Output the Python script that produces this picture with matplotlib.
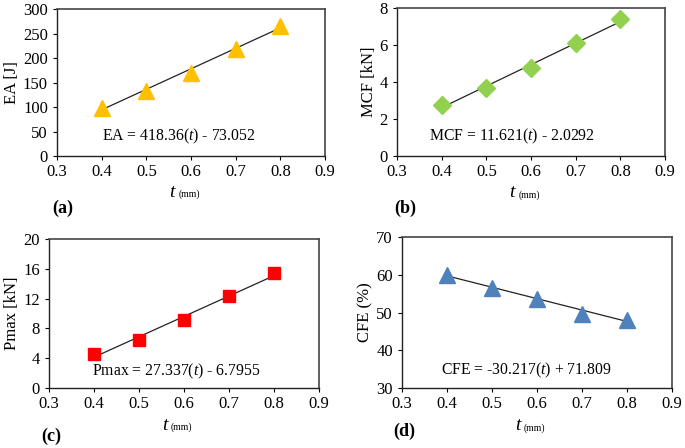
import numpy as np
import matplotlib
matplotlib.use("Agg")
import matplotlib.pyplot as plt

plt.rcParams['font.family'] = ['Liberation Serif', 'DejaVu Serif']
plt.rcParams['mathtext.fontset'] = 'custom'
plt.rcParams['mathtext.it'] = 'Liberation Serif:italic'
plt.rcParams['mathtext.rm'] = 'Liberation Serif'

# thickness values (mm)
thickness = [0.4, 0.5, 0.6, 0.7, 0.8]

ea = [98, 132, 170, 218, 265]
mcf = [2.75, 3.7, 4.75, 6.1, 7.4]
pmax = [4.6, 6.5, 9.1, 12.3, 15.4]
cfe = [60, 56.5, 53.5, 49.5, 48]

# linear fits (slope, intercept) as printed on the chart
ea_fit = (418.36, -73.052)
mcf_fit = (11.621, -2.0292)
pmax_fit = (27.337, -6.7955)
cfe_fit = (-30.217, 71.809)

fig = plt.figure(figsize=(6.85, 4.48), dpi=100)

panels = [
    # rect, y, fit, ylabel, ylim, yticks, marker, color, equation, eq pos, tag, tag pos
    ([0.0832, 0.6518, 0.3913, 0.328], ea, ea_fit, 'EA [J]', (0, 300), np.arange(0, 301, 50),
     '^', '#FFC000', r'EA = 418.36($\mathit{t}$) - 73.052', (0.40, 40), '(a)', (52, 213)),
    ([0.5796, 0.6518, 0.3912, 0.330], mcf, mcf_fit, 'MCF [kN]', (0, 8), np.arange(0, 9, 2),
     'D', '#92D050', r'MCF = 11.621($\mathit{t}$) - 2.0292', (0.372, 1.05), '(b)', (394, 213)),
    ([0.0715, 0.1339, 0.394, 0.3326], pmax, pmax_fit, 'Pmax [kN]', (0, 20), np.arange(0, 21, 4),
     's', '#FF0000', r'Pmax = 27.337($\mathit{t}$) - 6.7955', (0.396, 2.2), '(c)', (41, 441)),
    ([0.5869, 0.1339, 0.394, 0.337], cfe, cfe_fit, 'CFE (%)', (30, 70), np.arange(30, 71, 10),
     '^', '#4F81BD', r'CFE = -30.217($\mathit{t}$) + 71.809', (0.387, 34.6), '(d)', (393, 436)),
]

msize = {'^': 12, 'D': 9, 's': 9}

for rect, y, fit, ylabel, ylim, yticks, mk, col, eq, eqpos, tag, tagpos in panels:
    ax = fig.add_axes(rect)
    ax.plot(thickness, y, linestyle='none', marker=mk, markersize=msize[mk],
            color=col, zorder=3)
    tx = np.array([thickness[0], thickness[-1]])
    ax.plot(tx, fit[0] * tx + fit[1], color='#222222', lw=0.9, zorder=2)
    ax.set_xlim(0.3, 0.9)
    ax.set_xticks(np.arange(0.3, 0.91, 0.1))
    ax.set_xticklabels(['0.3', '0.4', '0.5', '0.6', '0.7', '0.8', '0.9'])
    ax.set_ylim(*ylim)
    ax.set_yticks(yticks)
    ax.set_ylabel(ylabel, fontsize=12, labelpad=2)
    ax.tick_params(direction='out', length=3, width=0.8, labelsize=12)
    ax.tick_params(axis='x', pad=2.5)
    ax.tick_params(axis='y', pad=3.5)
    for s in ['left', 'bottom']:
        ax.spines[s].set_color('#222222')
        ax.spines[s].set_linewidth(1.0)
    for s in ['top', 'right']:
        ax.spines[s].set_color('#444444')
        ax.spines[s].set_linewidth(1.2)
    ax.text(eqpos[0], eqpos[1], eq, fontsize=11.3, va='center', ha='left')
    ax.text(0.44, -0.28, 't', transform=ax.transAxes, fontsize=14, style='italic',
            ha='right', va='baseline')
    ax.text(0.452, -0.28, '(mm)', transform=ax.transAxes, fontsize=7,
            ha='left', va='baseline')
    fig.text(tagpos[0] / 685, 1 - tagpos[1] / 448, tag, fontsize=13,
             weight='bold', ha='left', va='baseline')

fig.savefig('out.png', dpi=100)
